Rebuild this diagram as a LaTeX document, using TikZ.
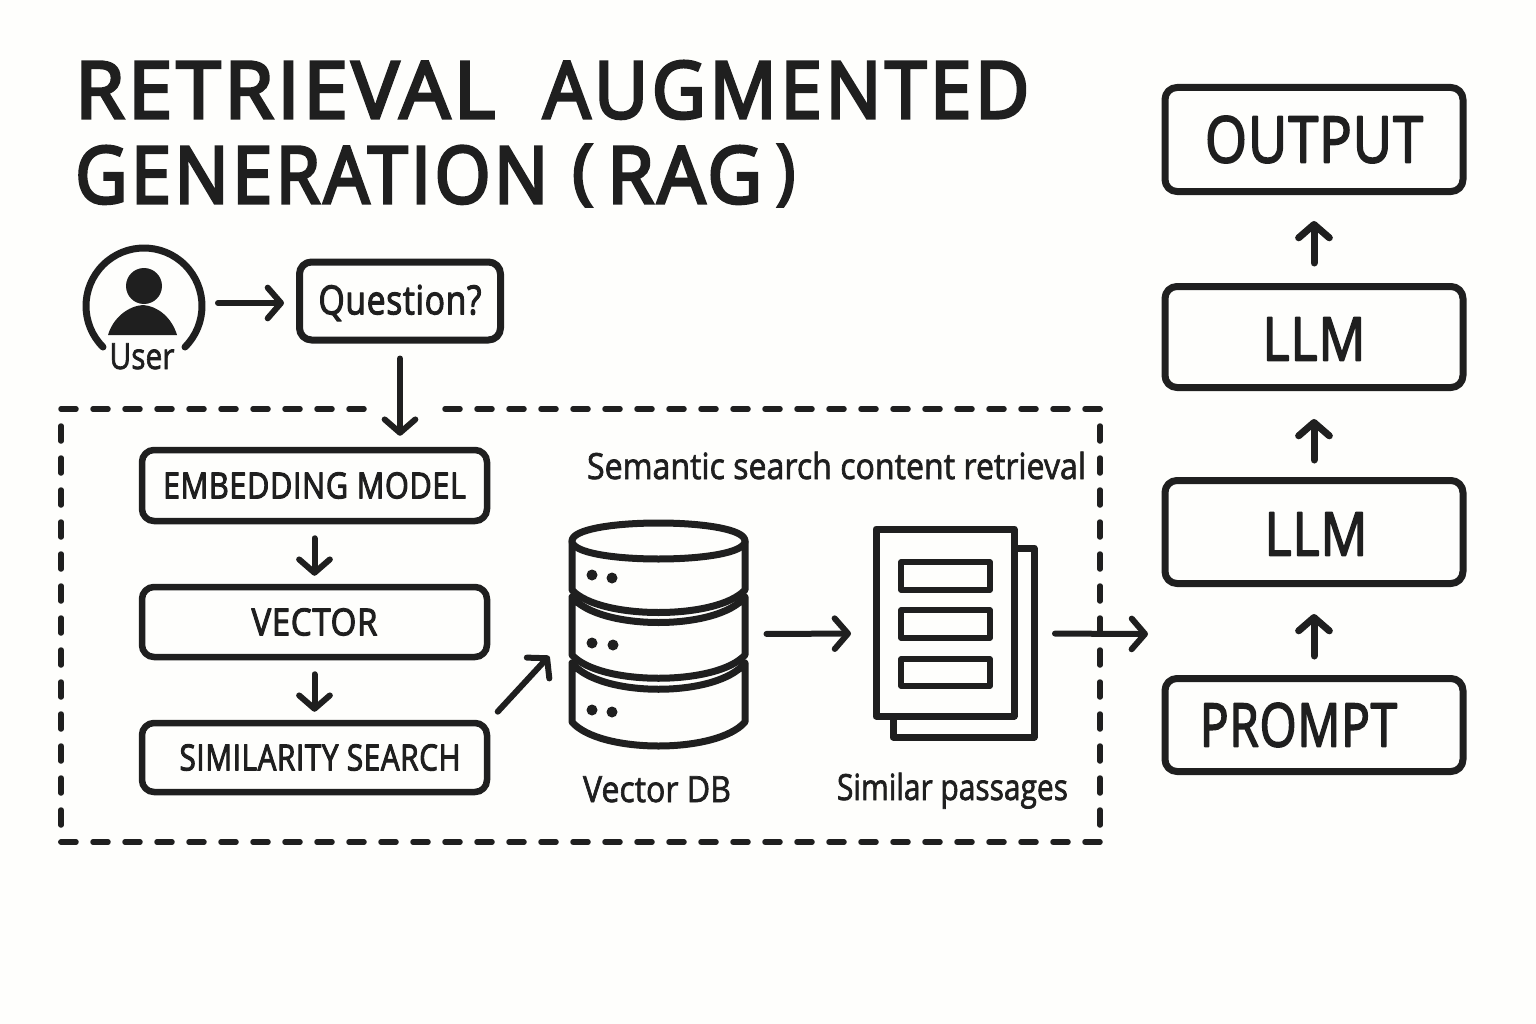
\documentclass[tikz,border=0pt]{standalone}
\usepackage{fontspec}
\usepackage{graphicx}
\usetikzlibrary{arrows.meta}
\setmainfont[FakeBold=2]{Open Sans}
\newfontfamily\titlefont[FakeBold=4,LetterSpace=5]{Open Sans}
\newfontfamily\boxfont[FakeBold=3,LetterSpace=2]{Open Sans}
\newlength\pxu
\setlength\pxu{0.75pt}
\definecolor{ink}{HTML}{1F1F1F}
\definecolor{paper}{HTML}{FEFEFC}
% width in px, font size in pt, text: text forced to the measured width
\newcommand{\fitw}[3]{{\fontsize{#2pt}{#2pt}\selectfont\resizebox{#1\pxu}{\height}{#3}}}
\newcommand{\paren}[1]{\raisebox{0.1em}{\scalebox{1}[.9]{#1}}}
\newcommand{\dropby}[2]{\raisebox{-#1\pxu}[\height][\depth]{#2}}
\tikzset{
  ink line/.style={draw=ink,line cap=round,line join=round},
  box/.style={ink line,fill=paper,rounded corners=9pt,inner sep=0pt,text=ink,font=\boxfont},
  smallbox/.style={box,line width=6.5\pxu,minimum width=345\pxu},
  bigbox/.style={box,line width=7\pxu,minimum width=298\pxu},
  label text/.style={inner sep=0pt,text=ink,anchor=base},
  ghost/.style={inner sep=0pt,outer sep=0pt},
  arr/.style={ink line,line width=6\pxu,-{Straight Barb[length=10pt,width=23pt,round]}},
  upar/.style={arr,line width=7\pxu},
  tier/.style={ink line,line width=7\pxu,fill=paper},
  sheet/.style={ink line,line width=7\pxu},
  bar/.style={ink line,line width=5.5\pxu,fill=paper},
  dot/.style={fill=ink},
}
\begin{document}
\begin{tikzpicture}[x=0.75pt,y=-0.75pt]
\fill[paper] (0,0) rectangle (1536,1024);
\useasboundingbox (0,0) rectangle (1536,1024);

% title
\node[label text,anchor=base west] (title1) at (75,118) {\titlefont\fitw{420}{59}{RETRIEVAL}\hspace{48\pxu}\fitw{486}{59}{AUGMENTED}};
\node[label text,anchor=base west] (title2) at (75,203) {\titlefont\fitw{473}{59}{GENERATION}\hspace{24\pxu}\fitw{21}{59}{\paren{(}}\hspace{14\pxu}\fitw{155}{59}{RAG}\hspace{14\pxu}\fitw{19}{59}{\paren{)}}};

% user icon
\node[ghost,circle,minimum size=148\pxu] (usericon) at (144,303) {};
\draw[ink line,line width=7\pxu] (103,347) .. controls (80.35,324.35) and (80.35,287.65) .. (103,265)
  .. controls (125.65,242.35) and (162.35,242.35) .. (185,265)
  .. controls (207.65,287.65) and (207.65,324.35) .. (185,347);
\fill[ink] (144,286) circle[radius=18];
\fill[ink] (108,335) .. controls (113,318) and (128,306) .. (143,305)
  .. controls (158,306) and (172,318) .. (177,335) -- cycle;
\node[label text] (userlabel) at (142,369) {\fitw{65}{27}{User}};

% dashed frame
\node[ink line,line width=5.5\pxu,dash pattern=on 15\pxu off 17\pxu,minimum width=1039\pxu,minimum height=433\pxu,ghost] (frame) at (580.5,625.5) {};
\fill[paper] (370,402) rectangle (432,416);

% question
\node[box,line width=7\pxu,minimum width=201\pxu,minimum height=78\pxu] (question) at (400,301) {\dropby{2}{\fitw{163}{30}{Question?}}};

% left boxes
\node[smallbox,minimum height=71\pxu] (embedding) at (314.5,485.5) {\fitw{303}{27}{EMBEDDING MODEL}};
\node[smallbox,minimum height=70\pxu] (vector) at (314.5,622) {\fitw{126}{28}{VECTOR}};
\node[smallbox,minimum height=69\pxu] (similarity) at (314.5,757.5) {\hspace*{11\pxu}\fitw{281}{27}{SIMILARITY SEARCH}};

\node[label text] (semantic) at (836.5,479) {\fitw{499}{27}{Semantic search content retrieval}};

% vector db
\node[ghost,minimum width=178\pxu,minimum height=224\pxu] (vectordb) at (658.5,634) {};
\draw[tier] (572,663) .. controls (600,698) and (717,698) .. (745,663) -- (745,722) .. controls (717,754) and (600,754) .. (572,722) -- cycle;
\draw[tier] (572,597) .. controls (600,631) and (717,631) .. (745,597) -- (745,655) .. controls (717,686) and (600,686) .. (572,655) -- cycle;
\draw[tier] (572,541) .. controls (572,517) and (745,517) .. (745,541) -- (745,590) .. controls (717,620) and (600,620) .. (572,590) -- cycle;
\draw[tier] (572,541) .. controls (572,565) and (745,565) .. (745,541);
\fill[dot] (592,575) circle[radius=5.5] (612,578) circle[radius=5.5];
\fill[dot] (592,643) circle[radius=5.5] (613,645) circle[radius=5.5];
\fill[dot] (592,710) circle[radius=5.5] (612,712) circle[radius=5.5];
\node[label text] (dblabel) at (657,802) {\fitw{148}{27}{Vector DB}};

% similar passages
\node[ghost,minimum width=164\pxu,minimum height=213\pxu] (docs) at (955,633.5) {};
\draw[sheet] (1016,548) -- (1034,548) -- (1034,737) -- (893,737) -- (893,718);
\draw[sheet,fill=paper] (876,529) rectangle (1014,716);
\draw[bar] (901,562) rectangle (990,590);
\draw[bar] (901,610) rectangle (990,638);
\draw[bar] (901,659) rectangle (990,686);
\node[label text] (docslabel) at (952.5,800) {\fitw{231}{27}{Similar passages}};

% right column
\node[bigbox,minimum height=104\pxu] (output) at (1314,139.5) {\fitw{218}{48}{OUTPUT}};
\node[bigbox,minimum height=101\pxu] (llmtop) at (1314,337) {\dropby{2}{\fitw{103}{45}{LLM}}};
\node[bigbox,minimum height=103\pxu] (llmlow) at (1314,532) {\dropby{2}{\hspace*{4\pxu}\fitw{103}{45}{LLM}}};
\node[bigbox,minimum height=93\pxu] (prompt) at (1314,725) {\hspace*{-31\pxu}\fitw{197}{45}{PROMPT}};
\coordinate (llmentry) at (1148,634);

% connectors
\draw[arr,shorten >=12\pxu] (usericon.east) -- (usericon.east -| question.west);
\draw[arr,shorten <=15\pxu,shorten >=11\pxu] (question.south) -- (question.south |- embedding.north);
\draw[arr,shorten <=14\pxu,shorten >=8\pxu] (embedding.south) -- (vector.north);
\draw[arr,shorten <=14\pxu,shorten >=8\pxu] (vector.south) -- (similarity.north);
\draw[arr,shorten <=11\pxu,shorten >=30\pxu] (similarity.north east) -- (vectordb.west);
\draw[arr,shorten <=19\pxu,shorten >=22\pxu] (vectordb.east) -- (docs.west);
\draw[arr,shorten <=18\pxu] (docs.east) -- (llmentry);
\draw[upar,shorten <=19\pxu,shorten >=27\pxu] (prompt.north) -- (llmlow.south);
\draw[upar,shorten <=17\pxu,shorten >=28\pxu] (llmlow.north) -- (llmtop.south);
\draw[upar,shorten <=20\pxu,shorten >=26\pxu] (llmtop.north) -- (output.south);
\end{tikzpicture}
\end{document}
